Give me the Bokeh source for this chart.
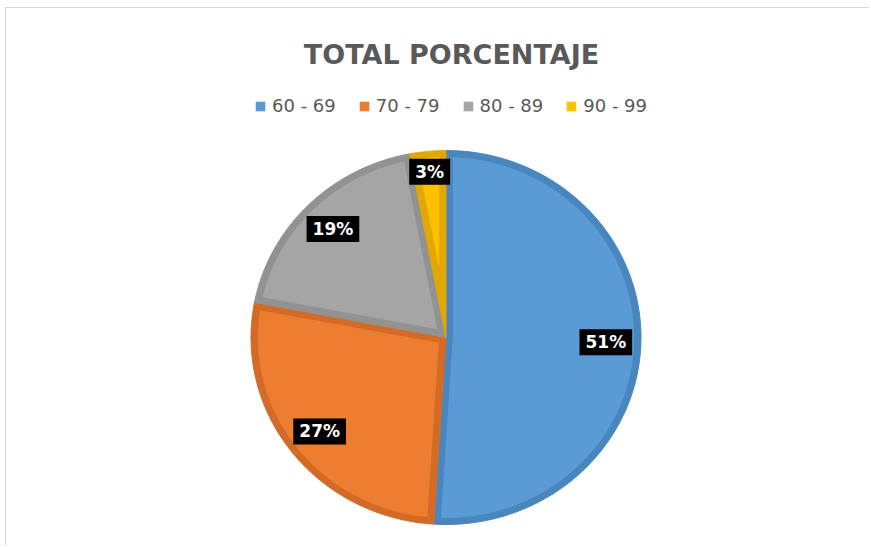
import numpy as np
from bokeh.plotting import figure
from bokeh.models import Range1d, Label, Legend, LegendItem
from bokeh.embed import file_html
from bokeh.resources import INLINE
from bokeh.core.properties import value

# ---- data ----
title_text = "TOTAL PORCENTAJE"
categories = ["60 - 69", "70 - 79", "80 - 89", "90 - 99"]
percentages = [51, 27, 19, 3]
fill_colors = ["#5B9BD5", "#ED7D31", "#A5A5A5", "#FFC000"]
edge_colors = ["#4A86BE", "#D36B27", "#929292", "#E0A800"]

W, H = 864, 538
FONT = "DejaVu Sans"

p = figure(width=W, height=H, output_backend="svg", toolbar_location=None,
           x_range=Range1d(-2.2538, 2.1769), y_range=Range1d(-1.1176, 1.7594),
           x_axis_location=None, y_axis_location=None, min_border=0)
p.grid.visible = False
p.outline_line_color = None
p.background_fill_color = "white"
p.border_fill_color = "white"
p.styles = {"margin-left": "5px", "margin-top": "7px",
            "border-left": "1px solid #D9D9D9", "border-top": "1px solid #D9D9D9"}

vals = np.array(percentages, dtype=float)
fr = vals / vals.sum()
ends = np.cumsum(fr) * 2 * np.pi
starts = ends - fr * 2 * np.pi

R = 1.0
D = 0.035


def u(a, r):
    return r * np.sin(a), r * np.cos(a)


# legend swatches (zero-size, hidden under the pie)
items = []
for c, cat in zip(fill_colors, categories):
    r = p.quad(left=[0], right=[0], top=[0], bottom=[0], fill_color=c, line_color=None)
    items.append(LegendItem(label=cat, renderers=[r]))

outer_xs, outer_ys, inner_xs, inner_ys = [], [], [], []
for a0, a1 in zip(starts, ends):
    ang = np.linspace(a0, a1, 200)
    ox, oy = u(ang, R)
    outer_xs.append(np.concatenate([[0.0], ox]))
    outer_ys.append(np.concatenate([[0.0], oy]))
    theta = a1 - a0
    rr = R - D
    delta = np.arcsin(D / rr)
    ang2 = np.linspace(a0 + delta, a1 - delta, 200)
    ix, iy = u(ang2, rr)
    if theta < np.pi:
        ax, ay = u((a0 + a1) / 2, D / np.sin(theta / 2))
        ix = np.concatenate([ix, [ax]])
        iy = np.concatenate([iy, [ay]])
    else:
        sa = np.linspace(a1 - np.pi / 2, a0 + np.pi / 2, 20)
        sx, sy = u(sa, D)
        ix = np.concatenate([ix, sx])
        iy = np.concatenate([iy, sy])
    inner_xs.append(ix)
    inner_ys.append(iy)

p.patches(xs=outer_xs, ys=outer_ys, fill_color=edge_colors, line_color=edge_colors, line_width=1)
p.patches(xs=inner_xs, ys=inner_ys, fill_color=fill_colors, line_color=None)

# data labels
mids = (starts + ends) / 2
lab_r = np.where(fr < 0.05, 0.89, 0.82)
lx, ly = u(mids, lab_r)
p.text(x=lx, y=ly, text=[f"{v:.0f}%" for v in vals], text_color="white",
       text_font=value(FONT), text_font_style="bold", text_font_size="17px",
       text_align="center", text_baseline="middle",
       background_fill_color="black", padding=(6, 3))

# title
p.add_layout(Label(x=445, y=492, x_units="screen", y_units="screen", text=title_text,
                   text_align="center", text_baseline="middle", text_font=FONT,
                   text_font_style="bold", text_font_size="27px", text_color="#595959"))

legend = Legend(items=items, orientation="horizontal", location=(248, 430),
                glyph_width=12, glyph_height=12, label_standoff=6, spacing=22,
                padding=0, margin=0, border_line_color=None, background_fill_alpha=0,
                label_text_font=FONT, label_text_font_size="18px",
                label_text_color="#595959")
p.add_layout(legend)

open("out.html", "w").write(file_html(p, INLINE))
